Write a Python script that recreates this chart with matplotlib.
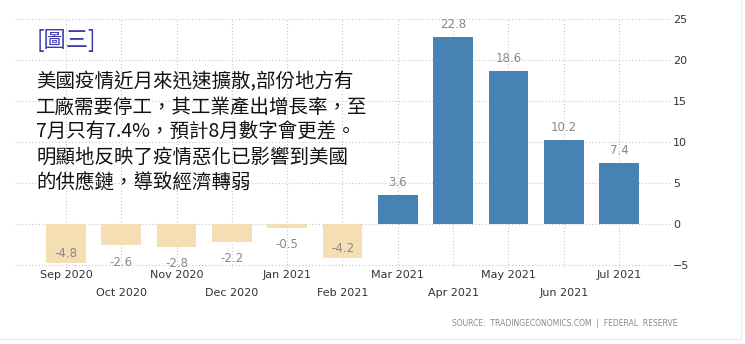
import numpy as np
import matplotlib.pyplot as plt
from matplotlib.lines import Line2D

# Data
months = ['Sep 2020', 'Oct 2020', 'Nov 2020', 'Dec 2020', 'Jan 2021', 'Feb 2021',
          'Mar 2021', 'Apr 2021', 'May 2021', 'Jun 2021', 'Jul 2021']
values = [-4.8, -2.6, -2.8, -2.2, -0.5, -4.2, 3.6, 22.8, 18.6, 10.2, 7.4]
yticks = [-5, 0, 5, 10, 15, 20, 25]

title = '[圖三]'
note_lines = [
    '美國疫情近月來迅速擴散,部份地方有',
    '工廠需要停工，其工業產出增長率，至',
    '7月只有7.4%，預計8月數字會更差。',
    '明顯地反映了疫情惡化已影響到美國',
    '的供應鏈，導致經濟轉弱',
]
source = 'SOURCE:  TRADINGECONOMICS.COM  |  FEDERAL  RESERVE'

cjk = ['Noto Sans CJK TC', 'DejaVu Sans']

fig = plt.figure(figsize=(7.45, 3.44), dpi=100)
ax = fig.add_axes([15 / 745, 1 - 267.5 / 344, 655 / 745, (267.5 - 19) / 344])

x = np.arange(len(months))
colors = ['#4682b4' if v >= 0 else '#f5deb3' for v in values]
ax.bar(x, values, width=0.72, color=colors, zorder=2)

# value labels: above positive bars, below short negative bars, inside long ones
for xi, v in zip(x, values):
    if v >= 0:
        off = 9
    elif v > -3:
        off = -12
    else:
        off = 7
    ax.annotate(f'{v:.1f}', (xi, v), xytext=(0, off), textcoords='offset points',
                ha='center', va='center', fontsize=8.5, color='#888888', zorder=3)

ax.set_xlim(-0.92, 10.92)
ax.set_ylim(-5.3, 25)

# dotted grid
grid_kw = dict(color='#c8c8c8', linewidth=0.8, linestyle=(0, (1, 2)), zorder=0)
for yt in yticks:
    ax.axhline(yt, **grid_kw)
for xi in x:
    ax.plot([xi, xi], [-5.3, 25], **grid_kw)

for s in ax.spines.values():
    s.set_visible(False)

# month labels in two rows
ax.set_xticks(x[::2])
ax.set_xticklabels(months[::2])
ax.set_xticks(x[1::2], minor=True)
ax.set_xticklabels(months[1::2], minor=True)
ax.tick_params(axis='x', which='major', length=0, pad=2, labelsize=8, labelcolor='#333333')
ax.tick_params(axis='x', which='minor', length=0, pad=15, labelsize=8, labelcolor='#333333')

ax.yaxis.tick_right()
ax.set_yticks(yticks)
ax.tick_params(axis='y', length=0, pad=2, labelsize=8, labelcolor='#333333')

# overlay text
fig.text(37 / 745, 1 - 40 / 344, title, family=cjk, fontsize=16, color='#3c3cac',
         va='center', ha='left')
for i, line in enumerate(note_lines):
    fig.text(36 / 745, 1 - (82 + 25.2 * i) / 344, line, family=cjk, fontsize=14,
             color='#111111', va='center', ha='left')

fig.text(677 / 745, 1 - 324 / 344, source, fontsize=5.5, color='#888888',
         ha='right', va='center')

# faint frame on the right and bottom
fig.add_artist(Line2D([741 / 745, 741 / 745], [1 - 339 / 344, 1], color='#eeeeee', lw=1))
fig.add_artist(Line2D([0, 741 / 745], [1 - 339 / 344, 1 - 339 / 344], color='#eeeeee', lw=1))

fig.savefig('out.png', dpi=100)
